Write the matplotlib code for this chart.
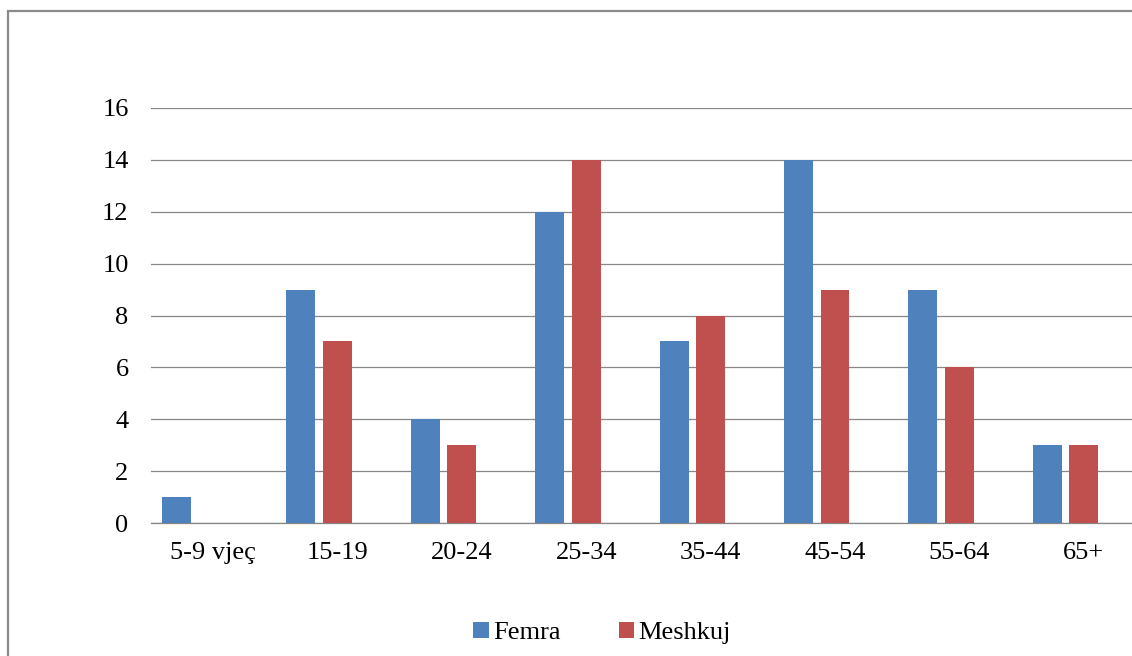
import numpy as np
import matplotlib.pyplot as plt
from matplotlib.patches import Rectangle

# age groups and counts per sex
groups = ["5-9 vjeç", "15-19", "20-24", "25-34", "35-44", "45-54", "55-64", "65+"]
femra = [1, 9, 4, 12, 7, 14, 9, 3]
meshkuj = [0, 7, 3, 14, 8, 9, 6, 3]

plt.rcParams['font.family'] = ['Liberation Serif', 'DejaVu Serif']

W, H = 1132, 656
fig = plt.figure(figsize=(W / 100, H / 100), dpi=100)
fig.patch.set_facecolor('white')

# chart area frame (runs off the right and bottom edges)
frame = Rectangle((8 / W, -0.2), 1.2, 1 - 11 / H + 0.2, transform=fig.transFigure,
                  fill=False, edgecolor='#8a8a8a', linewidth=1.6, zorder=0)
fig.patches.append(frame)

left, right = 150.8 / W, 1146 / W
bottom, top = (H - 523) / H, (H - 108) / H
ax = fig.add_axes([left, bottom, right - left, top - bottom])

x = np.arange(len(groups))
w = 0.233
ax.bar(x - 0.293, femra, width=w, color='#4F81BD', label='Femra', zorder=3)
ax.bar(x, meshkuj, width=w, color='#C0504D', label='Meshkuj', zorder=3)

ax.set_xlim(-0.5, len(groups) - 0.5)
ax.set_ylim(0, 16)
ax.set_yticks(range(0, 17, 2))
ax.set_xticks(x)
ax.set_xticklabels(groups)
ax.grid(axis='y', color='#868686', linewidth=0.9, zorder=0)
ax.set_axisbelow(True)

for s in ['top', 'right', 'left']:
    ax.spines[s].set_visible(False)
ax.spines['bottom'].set_color('#868686')
ax.spines['bottom'].set_linewidth(0.9)

ax.tick_params(axis='both', length=0, labelsize=19, colors='black')
ax.tick_params(axis='y', pad=16)
ax.tick_params(axis='x', pad=14)

fig.legend(loc='center', bbox_to_anchor=(602 / W, 1 - 633 / H), ncol=2, frameon=False,
           fontsize=19, handlelength=0.6, handleheight=0.6, handletextpad=0.15,
           columnspacing=2.2)

fig.savefig('out.png', dpi=100)
